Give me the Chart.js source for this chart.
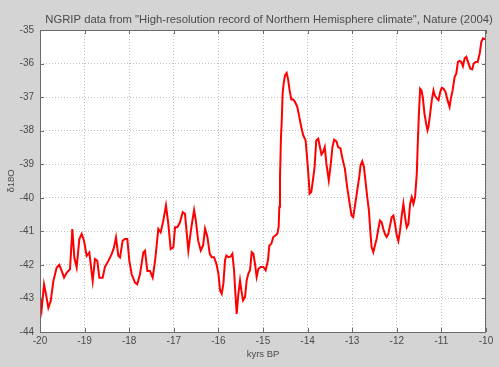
<!DOCTYPE html>
<html>
<head>
<meta charset="utf-8">
<script src="https://cdn.jsdelivr.net/npm/chart.js@4.4.0/dist/chart.umd.min.js"></script>
<style>
    html, body { margin: 0; padding: 0; background: #d4d4d4; }
</style>
</head>
<body>
<canvas id="ngrip" width="499" height="367"></canvas>
<script>
// ------------------ data ------------------ //
var ageKyr = [
    -20.000, -19.963, -19.910, -19.865, -19.813, -19.760, -19.700, -19.626, -19.567, -19.514,
    -19.460, -19.400, -19.327, -19.275, -19.230, -19.178, -19.118, -19.066, -19.013, -18.954,
    -18.894, -18.819, -18.767, -18.715, -18.670, -18.595, -18.543, -18.468, -18.393, -18.341,
    -18.296, -18.244, -18.206, -18.147, -18.094, -18.042, -17.997, -17.945, -17.870, -17.820,
    -17.758, -17.683, -17.646, -17.593, -17.534, -17.474, -17.420, -17.347, -17.294, -17.235,
    -17.175, -17.123, -17.070, -17.010, -16.973, -16.920, -16.861, -16.800, -16.749, -16.674,
    -16.622, -16.582, -16.545, -16.507, -16.455, -16.396, -16.343, -16.299, -16.246, -16.194,
    -16.149, -16.097, -16.045, -16.000, -15.963, -15.925, -15.888, -15.851, -15.821, -15.776,
    -15.724, -15.687, -15.649, -15.619, -15.590, -15.552, -15.515, -15.485, -15.448, -15.403,
    -15.366, -15.328, -15.291, -15.254, -15.216, -15.179, -15.142, -15.104, -15.052, -14.993,
    -14.940, -14.888, -14.858, -14.813, -14.769, -14.716, -14.679, -14.649, -14.634, -14.619,
    -14.597, -14.582, -14.560, -14.537, -14.507, -14.470, -14.440, -14.403, -14.366, -14.321,
    -14.284, -14.231, -14.187, -14.142, -14.097, -14.045, -14.007, -13.978, -13.955, -13.918,
    -13.881, -13.843, -13.806, -13.761, -13.690, -13.653, -13.615, -13.578, -13.525, -13.480,
    -13.443, -13.405, -13.353, -13.315, -13.263, -13.218, -13.165, -13.113, -13.068, -13.015,
    -12.977, -12.932, -12.887, -12.842, -12.812, -12.775, -12.737, -12.700, -12.662, -12.625,
    -12.595, -12.565, -12.527, -12.490, -12.452, -12.407, -12.377, -12.340, -12.302, -12.265,
    -12.227, -12.190, -12.152, -12.115, -12.077, -12.040, -12.002, -11.965, -11.927, -11.890,
    -11.852, -11.815, -11.777, -11.740, -11.702, -11.665, -11.627, -11.590, -11.552, -11.530,
    -11.507, -11.477, -11.447, -11.417, -11.380, -11.342, -11.312, -11.290, -11.252, -11.215,
    -11.177, -11.147, -11.102, -11.065, -11.027, -10.990, -10.952, -10.907, -10.862, -10.817,
    -10.787, -10.749, -10.704, -10.667, -10.629, -10.592, -10.554, -10.517, -10.479, -10.442,
    -10.404, -10.352, -10.307, -10.277, -10.232, -10.187, -10.142, -10.104, -10.067, -10.015
];
var d18O = [
    -42.93, -43.33, -42.58, -42.88, -43.28, -43.08, -42.48, -42.08, -42.00, -42.18,
    -42.38, -42.23, -42.13, -40.93, -41.78, -42.08, -41.23, -41.08, -41.28, -41.73,
    -41.63, -42.48, -41.83, -41.88, -42.38, -42.38, -42.06, -41.88, -41.68, -41.48,
    -41.18, -41.73, -41.78, -41.28, -41.23, -41.23, -41.88, -42.28, -42.53, -42.58,
    -42.28, -41.63, -41.58, -42.18, -42.18, -42.38, -41.88, -40.93, -41.03, -40.68,
    -40.23, -40.78, -41.53, -41.48, -40.88, -40.88, -40.73, -40.43, -40.48, -41.58,
    -41.03, -40.67, -40.37, -40.67, -41.27, -41.57, -41.42, -40.92, -41.17, -41.67,
    -41.77, -41.77, -41.97, -42.26, -42.76, -42.86, -42.56, -41.86, -41.72, -41.77,
    -41.75, -41.67, -42.16, -42.86, -43.46, -42.86, -42.46, -42.76, -43.06, -42.96,
    -42.46, -42.26, -42.16, -41.62, -41.67, -41.97, -42.36, -42.12, -42.06, -42.06,
    -42.16, -41.86, -41.42, -41.37, -41.17, -41.12, -41.07, -40.87, -40.27, -39.38,
    -38.19, -37.79, -36.89, -36.60, -36.35, -36.28, -36.45, -36.80, -37.07, -37.07,
    -37.14, -37.29, -37.59, -37.89, -38.14, -38.29, -38.88, -39.38, -39.88, -39.83,
    -39.48, -39.08, -38.29, -38.24, -38.71, -38.64, -38.49, -38.99, -39.48, -38.99,
    -38.49, -38.27, -38.32, -38.49, -38.53, -38.84, -39.13, -39.68, -40.08, -40.53,
    -40.58, -40.18, -39.78, -39.38, -39.03, -38.91, -39.08, -39.53, -39.98, -40.38,
    -40.98, -41.47, -41.62, -41.42, -41.22, -40.88, -40.68, -40.73, -40.93, -41.08,
    -41.17, -41.08, -40.83, -40.58, -40.53, -40.78, -41.12, -41.29, -40.98, -40.53,
    -40.18, -40.58, -40.88, -40.78, -40.18, -39.98, -40.18, -39.98, -39.28, -38.39,
    -37.59, -36.75, -36.80, -37.00, -37.49, -37.79, -37.99, -37.89, -37.49, -37.09,
    -36.80, -36.95, -37.04, -37.09, -36.85, -36.72, -36.75, -36.85, -37.09, -37.29,
    -37.04, -36.80, -36.40, -36.30, -35.95, -35.92, -35.95, -36.08, -35.85, -35.80,
    -35.95, -36.15, -36.17, -36.00, -35.95, -35.95, -35.70, -35.35, -35.25, -35.28
];

var xTicks = [-20, -19, -18, -17, -16, -15, -14, -13, -12, -11, -10];
var yTicks = [-44, -43, -42, -41, -40, -39, -38, -37, -36, -35];

var titleText = 'NGRIP data from "High-resolution record of Northern Hemisphere climate", Nature (2004)';
var xTitle = 'kyrs BP';
var yTitle = '\u03b418O';

var points = ageKyr.map(function (a, i) { return { x: a, y: d18O[i] }; });

var textColor = '#4a4a4a';
var fontFamily = "'Liberation Sans', Arial, Helvetica, sans-serif";

// gray figure, white axes, box with inward ticks, title (matlab look)
var matlabFrame = {
    id: 'matlabFrame',
    beforeDraw: function (chart) {
        var ctx = chart.ctx, a = chart.chartArea;
        ctx.save();
        ctx.fillStyle = '#d4d4d4';
        ctx.fillRect(0, 0, chart.width, chart.height);
        ctx.fillStyle = '#ffffff';
        ctx.fillRect(a.left, a.top, a.right - a.left, a.bottom - a.top);
        ctx.restore();
    },
    afterDraw: function (chart) {
        var ctx = chart.ctx, a = chart.chartArea;
        var xs = chart.scales.x, ys = chart.scales.y;
        ctx.save();
        ctx.strokeStyle = '#6a6a6a';
        ctx.lineWidth = 1;
        ctx.strokeRect(a.left + 0.5, a.top + 0.5, a.right - a.left - 1, a.bottom - a.top);
        ctx.beginPath();
        xTicks.forEach(function (v) {
            var px = Math.round(xs.getPixelForValue(v)) + 0.5;
            ctx.moveTo(px, a.bottom); ctx.lineTo(px, a.bottom - 4);
            ctx.moveTo(px, a.top); ctx.lineTo(px, a.top + 4);
        });
        yTicks.forEach(function (v) {
            var py = Math.round(ys.getPixelForValue(v)) + 0.5;
            ctx.moveTo(a.left, py); ctx.lineTo(a.left + 4, py);
            ctx.moveTo(a.right, py); ctx.lineTo(a.right - 4, py);
        });
        ctx.stroke();

        ctx.fillStyle = textColor;
        ctx.font = '11.3px ' + fontFamily;
        ctx.textAlign = 'center';
        ctx.textBaseline = 'middle';
        ctx.fillText(titleText, 269, 20);
        ctx.restore();
    }
};

new Chart(document.getElementById('ngrip'), {
    type: 'line',
    data: {
        datasets: [{
            data: points,
            borderColor: '#ff0000',
            borderWidth: 2,
            pointRadius: 0,
            tension: 0,
            fill: false
        }]
    },
    options: {
        responsive: false,
        animation: false,
        layout: { padding: { top: 30, right: 13, left: 0, bottom: 0 } },
        plugins: {
            legend: { display: false },
            tooltip: { enabled: false }
        },
        scales: {
            x: {
                type: 'linear',
                min: -20,
                max: -10,
                afterFit: function (s) { s.height = 35; },
                afterBuildTicks: function (s) { s.ticks = xTicks.map(function (v) { return { value: v }; }); },
                grid: { color: '#c0c0c0', drawTicks: false },
                border: { display: false, dash: [1, 2] },
                ticks: { padding: 3, color: textColor, font: { size: 10, family: fontFamily }, maxRotation: 0 },
                title: { display: true, text: xTitle, color: textColor, font: { size: 9.5, family: fontFamily }, padding: { top: 0, bottom: 7 } }
            },
            y: {
                type: 'linear',
                min: -44,
                max: -35,
                afterFit: function (s) { s.width = 40; },
                afterBuildTicks: function (s) { s.ticks = yTicks.map(function (v) { return { value: v }; }); },
                grid: { color: '#c0c0c0', drawTicks: false },
                border: { display: false, dash: [1, 2] },
                ticks: { padding: 6, color: textColor, font: { size: 10, family: fontFamily } },
                title: { display: true, text: yTitle, color: textColor, font: { size: 9.5, family: fontFamily }, padding: { top: 6, bottom: 0 } }
            }
        }
    },
    plugins: [matlabFrame]
});
</script>
</body>
</html>
